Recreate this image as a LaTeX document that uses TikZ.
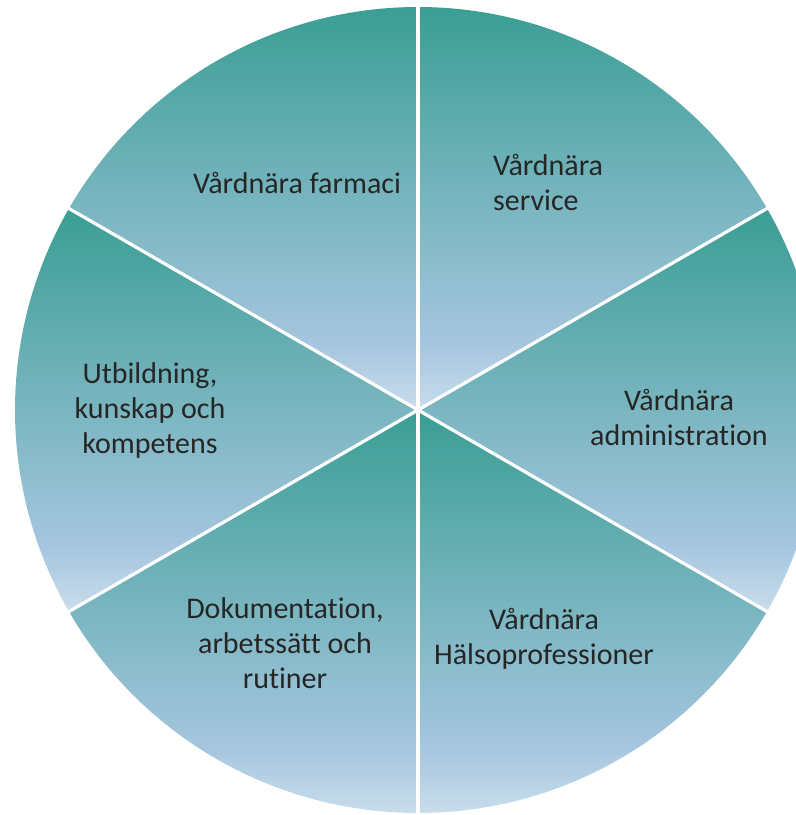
\documentclass[tikz,border=0pt]{standalone}
\usepackage{fontspec}
\setmainfont{Carlito}[Ligatures=NoCommon]
\definecolor{sliceteal}{HTML}{3A9E94}
\definecolor{sliceblue}{HTML}{A6C6DF}
\definecolor{slicelight}{HTML}{C9DDEC}
\definecolor{labelgray}{HTML}{262626}
\pgfdeclareverticalshading{slicefill}{100bp}{color(0bp)=(slicelight); color(25bp)=(slicelight); color(33bp)=(sliceblue); color(75bp)=(sliceteal); color(100bp)=(sliceteal)}
\tikzset{
  slicelabel/.style={text=labelgray, font=\fontsize{30}{35}\selectfont, align=center, inner sep=0pt},
  divider/.style={white, line width=3.2pt}
}
\begin{document}
\begin{tikzpicture}[x=1pt,y=1pt]
\useasboundingbox (0,0) rectangle (796,-815);
\clip (0,0) rectangle (796,-815);
\coordinate (c) at (418,-410);

% six slices, each shaded over its own height
\foreach \a in {-90,-30,30,90,150,210}
	\shade[shading=slicefill] (c) -- ++(\a:403) arc[start angle=\a, end angle=\a+60, radius=403] -- cycle;

\foreach \a [count=\i] in {-90,-30,30,90,150,210}
	\path (c) ++(\a:405) coordinate (rim\i);
\foreach \i in {1,...,6}
	\draw[divider] (c) -- (rim\i);

\node[slicelabel] (farmaci) at (297,-183) {Vårdnära farmaci};
\node[slicelabel, align=left, anchor=west] (service) at (493,-182) {Vårdnära\\service};
\node[slicelabel] (admin) at (679,-417) {Vårdnära\\administration};
\node[slicelabel] (halso) at (544,-639) {Vårdnära\\Hälsoprofessioner};
\node[slicelabel] (dok) at (285,-643) {Dokumentation,\\arbetssätt och\\rutiner};
\node[slicelabel] (utb) at (150,-410) {Utbildning,\\kunskap och\\kompetens};
\end{tikzpicture}
\end{document}
